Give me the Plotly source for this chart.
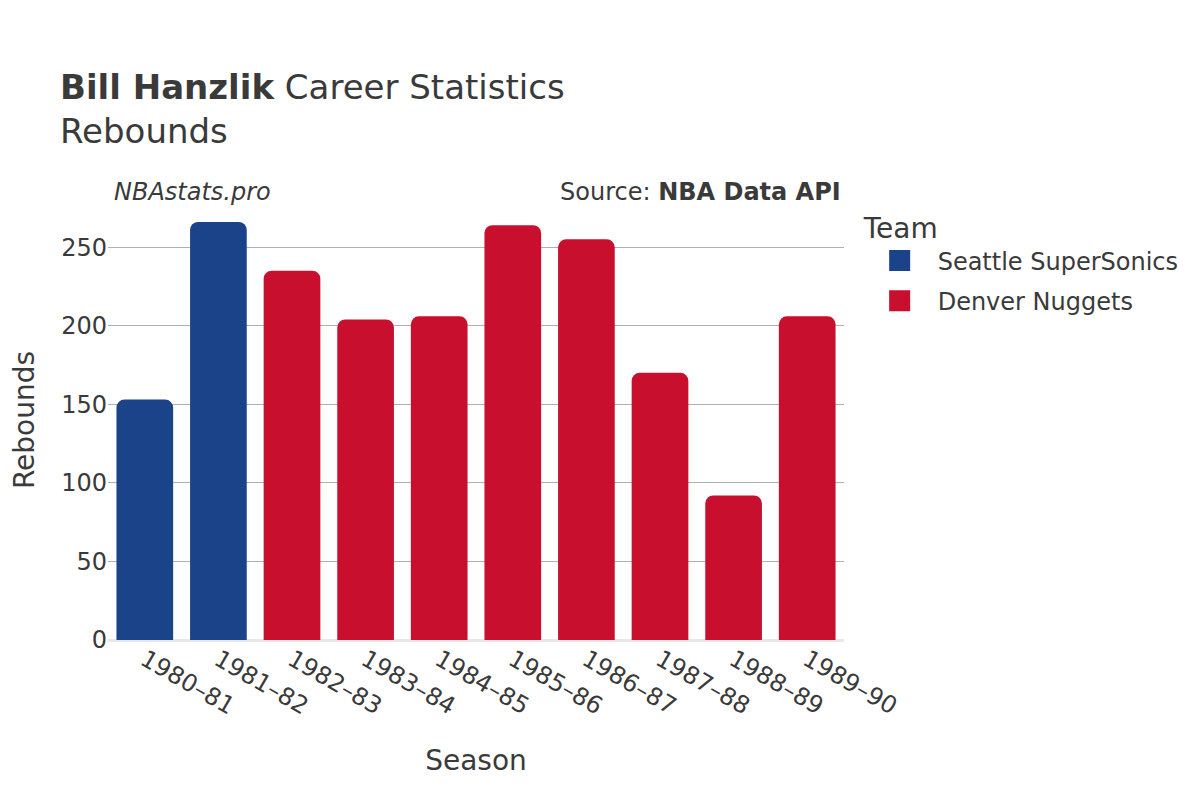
import plotly.graph_objects as go

seasons = ["1980–81", "1981–82", "1982–83", "1983–84", "1984–85",
           "1985–86", "1986–87", "1987–88", "1988–89", "1989–90"]
teams = ["Seattle SuperSonics", "Seattle SuperSonics", "Denver Nuggets", "Denver Nuggets",
         "Denver Nuggets", "Denver Nuggets", "Denver Nuggets", "Denver Nuggets",
         "Denver Nuggets", "Denver Nuggets"]
rebounds = [153, 266, 235, 204, 206, 264, 255, 170, 92, 206]

team_order = ["Seattle SuperSonics", "Denver Nuggets"]
team_colors = {"Seattle SuperSonics": "#1B4389", "Denver Nuggets": "#C8102E"}

FONT = "DejaVu Sans"
TXT = "#3a3a3a"

fig = go.Figure()
for t in team_order:
    xs = [s for s, tm in zip(seasons, teams) if tm == t]
    ys = [r for r, tm in zip(rebounds, teams) if tm == t]
    fig.add_trace(go.Bar(x=xs, y=ys, name=t, marker_color=team_colors[t],
                         marker_line_width=0, showlegend=False, legendgroup=t))
    # legend entry
    fig.add_trace(go.Scatter(x=[None], y=[None], mode="markers", name=t,
                             legendgroup=t,
                             marker=dict(symbol="square", size=16, color=team_colors[t],
                                         line=dict(width=5, color=team_colors[t]))))

fig.update_layout(
    width=1200, height=800,
    paper_bgcolor="white", plot_bgcolor="white",
    font=dict(family=FONT, color=TXT, size=24),
    barmode="relative",
    bargap=0.23,
    barcornerradius=8,
    margin=dict(l=100, r=364, t=192, b=168, autoexpand=False),
    title=dict(
        text="<b>Bill Hanzlik</b> Career Statistics<br>Rebounds",
        x=52 / 1200, xanchor="left", y=0.886, yanchor="top",
        font=dict(family=FONT, size=34, color=TXT),
    ),
    legend=dict(
        title=dict(text="Team", font=dict(size=28)),
        font=dict(size=24),
        x=1.024, xanchor="left", y=1.0 - 2 / 440, yanchor="top",
        traceorder="grouped", tracegroupgap=6,
        itemwidth=66,
    ),
    xaxis=dict(
        title=dict(text="Season", font=dict(size=28), standoff=30),
        categoryorder="array", categoryarray=seasons,
        tickangle=30, tickfont=dict(size=24),
        showgrid=False, showline=False, automargin=True,
    ),
    yaxis=dict(
        title=dict(text="Rebounds", font=dict(size=28), standoff=32),
        tickfont=dict(size=24), automargin=True,
        showgrid=True, gridcolor="#b0b0b0", gridwidth=1,
        zeroline=True, zerolinecolor="#e8e8e8", zerolinewidth=3,
        dtick=50,
    ),
    annotations=[
        dict(text="<i>NBAstats.pro</i>", x=0.0, xref="paper", xanchor="left", xshift=4,
             y=1.0, yref="paper", yanchor="middle", yshift=8, showarrow=False,
             font=dict(size=24, color=TXT)),
        dict(text="Source: <b>NBA Data API</b>", x=1.0, xref="paper", xanchor="right", xshift=-1,
             y=1.0, yref="paper", yanchor="middle", yshift=8, showarrow=False,
             font=dict(size=24, color=TXT)),
    ],
)

fig.write_html("out.html")
